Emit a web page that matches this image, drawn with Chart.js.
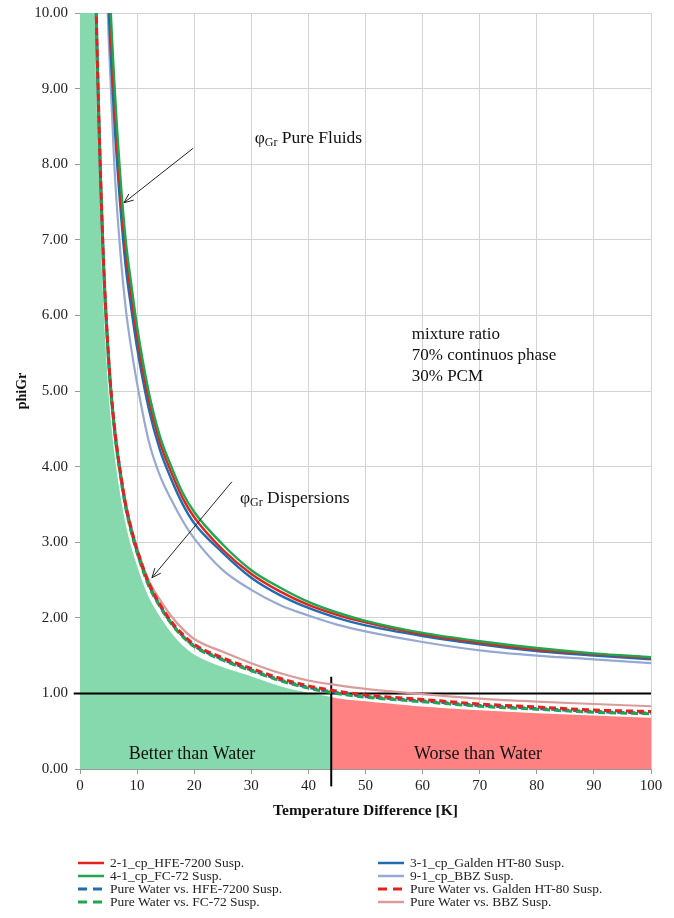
<!DOCTYPE html>
<html><head><meta charset="utf-8">
<script src="https://cdn.jsdelivr.net/npm/chart.js@4"></script>
<style>html,body{margin:0;padding:0;background:#fff}#wrap{width:674px;height:918px;position:relative}</style>
</head><body><div id="wrap"><canvas id="c" width="674" height="918"></canvas></div>
<script>
// ---- data ----
const xPoints = [2,3,4,5,6,7,8,9,10,12,14,16,18,20,25,30,35,40,45,50,60,70,80,90,100];
const hfeSusp    = [null,null,12.6,10.4,8.85,7.7,6.85,6.25,5.72,4.9,4.32,3.92,3.58,3.33,2.9,2.58,2.35,2.17,2.04,1.94,1.78,1.67,1.58,1.52,1.47];
const galdenSusp = [null,null,12.2,10.1,8.6,7.5,6.65,6.08,5.57,4.78,4.22,3.83,3.5,3.25,2.86,2.53,2.3,2.13,2.0,1.9,1.76,1.65,1.56,1.5,1.45];
const fc72Susp   = [null,null,13.0,10.7,9.1,7.9,7.0,6.4,5.85,5.0,4.4,4.0,3.65,3.4,2.97,2.63,2.4,2.21,2.07,1.96,1.8,1.69,1.6,1.53,1.48];
const bbzSusp    = [null,null,12.0,9.7,8.0,6.9,6.1,5.55,5.1,4.35,3.88,3.56,3.28,3.05,2.63,2.37,2.17,2.03,1.91,1.82,1.68,1.57,1.5,1.45,1.4];
const pwHfe      = [13.25,9.45,6.92,5.42,4.52,3.94,3.48,3.15,2.88,2.45,2.16,1.93,1.76,1.63,1.45,1.31,1.18,1.08,1.01,0.96,0.9,0.84,0.8,0.76,0.74];
const pwGalden   = [13.3,9.5,6.95,5.45,4.55,3.96,3.5,3.17,2.9,2.47,2.18,1.95,1.78,1.65,1.47,1.33,1.2,1.1,1.03,0.98,0.92,0.86,0.82,0.78,0.76];
const pwFc72     = [13.2,9.4,6.9,5.4,4.5,3.92,3.46,3.13,2.86,2.43,2.15,1.92,1.75,1.62,1.44,1.3,1.17,1.07,1.0,0.95,0.89,0.83,0.79,0.75,0.73];
const pwBbz      = [13.5,9.6,7.0,5.5,4.6,4.0,3.53,3.2,2.93,2.5,2.24,2.02,1.85,1.72,1.55,1.4,1.27,1.17,1.11,1.06,0.99,0.93,0.89,0.86,0.83];
const betterX    = [0,2,3,4,5,6,7,8,9,10,12,14,16,18,20,25,30,35,40,44];
const betterY    = [20,12.7,9.0,6.6,5.15,4.3,3.74,3.3,2.98,2.73,2.31,2.04,1.82,1.65,1.53,1.36,1.24,1.11,1.02,0.97];
const worseX     = [44,45,50,60,70,80,90,100];
const worseY     = [0.97,0.95,0.91,0.84,0.79,0.75,0.72,0.69];
const waterLineY = 1;
const crossoverX = 44;
const xTicks = {min:0, max:100, step:10};
const yTicks = {min:0, max:10, step:1};

const SERIF = '"Liberation Serif", "Times New Roman", serif';
const pts = (xs, ys) => xs.map((x,i)=>({x, y: ys[i]})).filter(p=>p.y!==null);

const C = {red:'#E2231C', green:'#1FA64E', blue:'#1F6DB0', lblue:'#97A9D1', pink:'#D99C9A',
           fillG:'#86D8AD', fillR:'#FF8181'};

function line(label, ys, color, width, dash, order){
  return {label, data: pts(xPoints, ys), borderColor: color, backgroundColor: color, borderWidth: width,
    borderDash: dash || [], pointRadius: 0, fill: false, cubicInterpolationMode: 'monotone', order};
}

const datasets = [
  {label:'better', data: pts(betterX, betterY), borderColor:'#ffffff', borderWidth:2, backgroundColor:C.fillG,
   fill:'origin', pointRadius:0, cubicInterpolationMode:'monotone', order:30},
  {label:'worse', data: pts(worseX, worseY), borderColor:'#ffffff', borderWidth:2, backgroundColor:C.fillR,
   fill:'origin', pointRadius:0, cubicInterpolationMode:'monotone', order:30},
  {label:'hline', data:[{x:-1.1,y:waterLineY},{x:xTicks.max,y:waterLineY}], borderColor:'#000', borderWidth:2, pointRadius:0, clip:false, order:20},
  {label:'vline', data:[{x:crossoverX,y:-0.23},{x:crossoverX,y:1.22}], borderColor:'#000', borderWidth:2, pointRadius:0, clip:false, order:20},
  line('Pure Water vs. BBZ Susp.', pwBbz, C.pink, 2.2, null, 12),
  line('Pure Water vs. HFE-7200 Susp.', pwHfe, C.blue, 3, [7,4], 11),
  line('Pure Water vs. FC-72 Susp.', pwFc72, C.green, 3, [7,4], 10),
  line('Pure Water vs. Galden HT-80 Susp.', pwGalden, C.red, 3, [7,4], 9),
  line('9-1_cp_BBZ Susp.', bbzSusp, C.lblue, 2.2, null, 8),
  line('3-1_cp_Galden HT-80 Susp.', galdenSusp, C.blue, 2.4, null, 7),
  line('2-1_cp_HFE-7200 Susp.', hfeSusp, C.red, 2.4, null, 6),
  line('4-1_cp_FC-72 Susp.', fc72Susp, C.green, 2.4, null, 5),
];

const legendRows = [
  ['2-1_cp_HFE-7200 Susp.', '3-1_cp_Galden HT-80 Susp.'],
  ['4-1_cp_FC-72 Susp.', '9-1_cp_BBZ Susp.'],
  ['Pure Water vs. HFE-7200 Susp.', 'Pure Water vs. Galden HT-80 Susp.'],
  ['Pure Water vs. FC-72 Susp.', 'Pure Water vs. BBZ Susp.'],
];

const notes = {
  pure: {x:30.6, y:8.28, text:'Pure Fluids', from:[19.8,8.21], to:[7.7,7.49]},
  disp: {x:28.0, y:3.52, text:'Dispersions', from:[26.6,3.80], to:[12.6,2.53]},
  mix: {x:58.1, y:[5.69,5.41,5.13], lines:['mixture ratio','70% continuos phase','30% PCM']},
  better: {x:19.6, y:0.13, text:'Better than Water'},
  worse: {x:69.7, y:0.13, text:'Worse than Water'},
};

function arrow(ctx, x1, y1, x2, y2){
  ctx.beginPath(); ctx.moveTo(x1,y1); ctx.lineTo(x2,y2); ctx.stroke();
  const a = Math.atan2(y2-y1, x2-x1), L = 10, s = 0.4;
  ctx.beginPath();
  ctx.moveTo(x2 - L*Math.cos(a-s), y2 - L*Math.sin(a-s));
  ctx.lineTo(x2, y2);
  ctx.lineTo(x2 - L*Math.cos(a+s), y2 - L*Math.sin(a+s));
  ctx.stroke();
}
function phiLabel(ctx, px, py, rest){
  ctx.textAlign='left'; ctx.textBaseline='alphabetic';
  ctx.font = '17.5px '+SERIF; ctx.fillText('φ', px, py);
  let w = ctx.measureText('φ').width;
  ctx.font = '12px '+SERIF; ctx.fillText('Gr', px+w, py+3);
  w += ctx.measureText('Gr').width;
  ctx.font = '17.5px '+SERIF; ctx.fillText(' '+rest, px+w, py);
}

const overlay = {
  id:'overlay',
  afterDatasetsDraw(chart){
    const {ctx, scales:{x, y}} = chart;
    const X = v=>x.getPixelForValue(v), Y = v=>y.getPixelForValue(v);
    ctx.save();
    ctx.strokeStyle = '#222'; ctx.lineWidth = 1; ctx.fillStyle = '#111';
    [notes.pure, notes.disp].forEach(n=>{
      arrow(ctx, X(n.from[0]), Y(n.from[1]), X(n.to[0]), Y(n.to[1]));
      phiLabel(ctx, X(n.x), Y(n.y), n.text);
    });
    ctx.font = '17px '+SERIF; ctx.textAlign='left';
    notes.mix.lines.forEach((t,i)=>ctx.fillText(t, X(notes.mix.x), Y(notes.mix.y[i])));
    ctx.font = '18px '+SERIF; ctx.textAlign='center';
    ctx.fillText(notes.better.text, X(notes.better.x), Y(notes.better.y));
    ctx.fillText(notes.worse.text, X(notes.worse.x), Y(notes.worse.y));
    ctx.restore();
  },
  afterDraw(chart){
    const ctx = chart.ctx;
    const colX = [78, 378], rowY = [863, 876, 889, 902];
    ctx.save();
    ctx.font = '13.5px '+SERIF; ctx.textBaseline='middle'; ctx.textAlign='left'; ctx.fillStyle='#222';
    legendRows.forEach((row, r)=>row.forEach((label, c)=>{
      const ds = chart.data.datasets.find(d=>d.label===label);
      const x0 = colX[c], yy = rowY[r];
      ctx.strokeStyle = ds.borderColor; ctx.lineWidth = ds.borderDash.length ? 3 : 2.5;
      ctx.setLineDash(ds.borderDash.length ? [9,6] : []);
      ctx.beginPath(); ctx.moveTo(x0, yy); ctx.lineTo(x0+26, yy); ctx.stroke();
      ctx.setLineDash([]);
      ctx.fillText(label, x0+32, yy);
    }));
    ctx.restore();
  }
};

new Chart(document.getElementById('c'), {
  type:'line',
  data:{datasets},
  options:{
    responsive:false, animation:false,
    layout:{padding:{left:0, right:23, top:13, bottom:89}},
    plugins:{legend:{display:false}, tooltip:{enabled:false}},
    scales:{
      x:{type:'linear', min:xTicks.min, max:xTicks.max,
        ticks:{stepSize:xTicks.step, font:{family:SERIF, size:15}, color:'#222', padding:3, maxRotation:0},
        grid:{color:'#d3d3d3', tickLength:5, tickColor:'#999'}, border:{color:'#999'},
        title:{display:true, text:'Temperature Difference [K]', font:{family:SERIF, size:15.5, weight:'bold'}, color:'#111', padding:9},
        afterFit:s=>{s.height=60; s.paddingLeft=0; s.paddingRight=0;}},
      y:{min:yTicks.min, max:yTicks.max,
        ticks:{stepSize:yTicks.step, font:{family:SERIF, size:15}, color:'#222', padding:7, callback:v=>Number(v).toFixed(2)},
        grid:{color:'#d3d3d3', tickLength:5, tickColor:'#999'}, border:{color:'#999'},
        title:{display:true, text:'phiGr', font:{family:SERIF, size:14, weight:'bold'}, color:'#111', padding:14},
        afterFit:s=>{s.width=80; s.paddingTop=0; s.paddingBottom=0;}}
    }
  },
  plugins:[overlay]
});
</script></body></html>
